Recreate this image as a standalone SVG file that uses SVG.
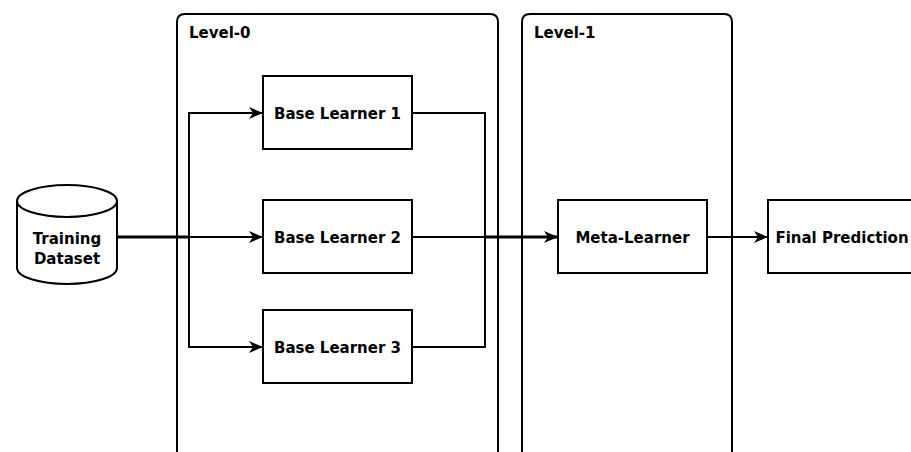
<svg xmlns="http://www.w3.org/2000/svg" width="911" height="452" viewBox="0 0 911 452">
  <style>
    .box { fill: #ffffff; stroke: #000000; stroke-width: 2; }
    .frame { fill: none; stroke: #000000; stroke-width: 2; }
    .edge { fill: none; stroke: #000000; stroke-width: 2; }
    .bold-edge { fill: none; stroke: #000000; stroke-width: 3; }
    .label { font-family: "DejaVu Sans", Verdana, sans-serif; font-weight: bold; font-size: 15px; fill: #000000; }
    .mid { text-anchor: middle; }
  </style>
  <defs>
    <marker id="arrow" viewBox="0 0 14 12" refX="13" refY="6" markerWidth="14" markerHeight="12" markerUnits="userSpaceOnUse" orient="auto">
      <path d="M0,0 L14,6 L0,12 L4,6 Z" fill="#000000"/>
    </marker>
  </defs>
  <rect width="911" height="452" fill="#ffffff"/>

  <!-- stacking levels -->
  <g id="level-0">
    <path class="frame" d="M177,460 V22 Q177,14 185,14 H490 Q498,14 498,22 V460"/>
    <text class="label" x="189" y="38">Level-0</text>
  </g>
  <g id="level-1">
    <path class="frame" d="M522,460 V22 Q522,14 530,14 H724 Q732,14 732,22 V460"/>
    <text class="label" x="534" y="38">Level-1</text>
  </g>

  <!-- connectors -->
  <g id="connectors">
    <path class="bold-edge" d="M117,237 H190"/>
    <path class="edge" d="M189,237 V113 H262" marker-end="url(#arrow)"/>
    <path class="edge" d="M189,237 H262" marker-end="url(#arrow)"/>
    <path class="edge" d="M189,237 V347 H262" marker-end="url(#arrow)"/>
    <path class="edge" d="M412,113 H485 V237"/>
    <path class="edge" d="M412,347 H485 V237"/>
    <path class="edge" d="M412,237 H485"/>
    <path class="bold-edge" d="M485,237 H557" marker-end="url(#arrow)"/>
    <path class="edge" d="M707,237 H767" marker-end="url(#arrow)"/>
  </g>

  <!-- data source -->
  <g id="training-dataset">
    <path class="box" d="M17,201 A50,16 0 0 1 117,201 V268 A50,16 0 0 1 17,268 Z"/>
    <path class="frame" d="M17,201 A50,16 0 0 0 117,201"/>
    <text class="label mid" x="67" y="244">Training</text>
    <text class="label mid" x="67" y="264">Dataset</text>
  </g>

  <!-- base learners -->
  <g id="base-learner-1">
    <rect class="box" x="263" y="76" width="149" height="73"/>
    <text class="label mid" x="337.5" y="118.5">Base Learner 1</text>
  </g>
  <g id="base-learner-2">
    <rect class="box" x="263" y="200" width="149" height="73"/>
    <text class="label mid" x="337.5" y="242.5">Base Learner 2</text>
  </g>
  <g id="base-learner-3">
    <rect class="box" x="263" y="310" width="149" height="73"/>
    <text class="label mid" x="337.5" y="352.5">Base Learner 3</text>
  </g>

  <!-- meta model and output -->
  <g id="meta-learner">
    <rect class="box" x="558" y="200" width="149" height="73"/>
    <text class="label mid" x="632.5" y="242.5">Meta-Learner</text>
  </g>
  <g id="final-prediction">
    <rect class="box" x="768" y="200" width="150" height="73"/>
    <text class="label mid" x="842" y="242.5">Final Prediction</text>
  </g>
</svg>
